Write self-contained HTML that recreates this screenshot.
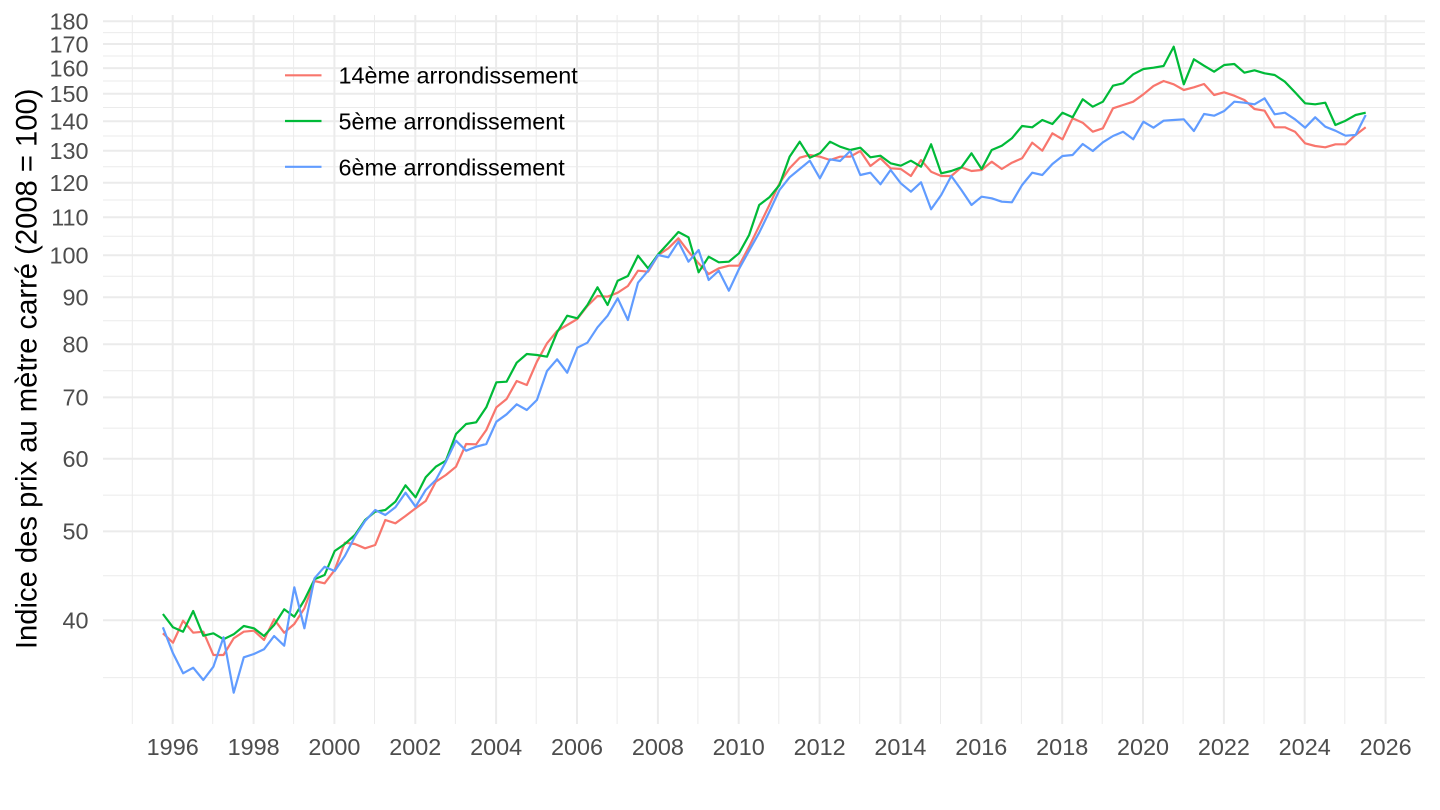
<!DOCTYPE html>
<html>
<head>
<meta charset="utf-8">
<style>
  html, body { margin: 0; padding: 0; background: #ffffff; }
  svg { display: block; }
  text { font-family: "Liberation Sans", Arial, sans-serif; }
</style>
</head>
<body>
<svg width="1440" height="810" viewBox="0 0 1440 810" xmlns="http://www.w3.org/2000/svg">
  <rect x="0" y="0" width="1440" height="810" fill="#ffffff"/>
  <!-- minor horizontal gridlines -->
  <g stroke="#EBEBEB" stroke-width="1" fill="none">
    <line x1="103" x2="1425" y1="677.6" y2="677.6"/>
    <line x1="103" x2="1425" y1="575.8" y2="575.8"/>
    <line x1="103" x2="1425" y1="495.1" y2="495.1"/>
    <line x1="103" x2="1425" y1="428.1" y2="428.1"/>
    <line x1="103" x2="1425" y1="370.8" y2="370.8"/>
    <line x1="103" x2="1425" y1="320.7" y2="320.7"/>
    <line x1="103" x2="1425" y1="276.3" y2="276.3"/>
    <line x1="103" x2="1425" y1="236.3" y2="236.3"/>
    <line x1="103" x2="1425" y1="200.0" y2="200.0"/>
    <line x1="103" x2="1425" y1="166.7" y2="166.7"/>
    <line x1="103" x2="1425" y1="136.0" y2="136.0"/>
    <line x1="103" x2="1425" y1="107.5" y2="107.5"/>
    <line x1="103" x2="1425" y1="81.0" y2="81.0"/>
    <line x1="103" x2="1425" y1="56.0" y2="56.0"/>
    <line x1="103" x2="1425" y1="32.6" y2="32.6"/>
  </g>
  <!-- minor vertical gridlines (odd years) -->
  <g stroke="#EBEBEB" stroke-width="1" fill="none">
    <line y1="15" y2="724" x1="132.3" x2="132.3"/>
    <line y1="15" y2="724" x1="212.7" x2="212.7"/>
    <line y1="15" y2="724" x1="293.6" x2="293.6"/>
    <line y1="15" y2="724" x1="374.5" x2="374.5"/>
    <line y1="15" y2="724" x1="455.4" x2="455.4"/>
    <line y1="15" y2="724" x1="536.2" x2="536.2"/>
    <line y1="15" y2="724" x1="617.1" x2="617.1"/>
    <line y1="15" y2="724" x1="697.9" x2="697.9"/>
    <line y1="15" y2="724" x1="778.8" x2="778.8"/>
    <line y1="15" y2="724" x1="859.7" x2="859.7"/>
    <line y1="15" y2="724" x1="940.5" x2="940.5"/>
    <line y1="15" y2="724" x1="1021.4" x2="1021.4"/>
    <line y1="15" y2="724" x1="1102.2" x2="1102.2"/>
    <line y1="15" y2="724" x1="1183.1" x2="1183.1"/>
    <line y1="15" y2="724" x1="1264.0" x2="1264.0"/>
    <line y1="15" y2="724" x1="1344.8" x2="1344.8"/>
  </g>
  <!-- major horizontal gridlines -->
  <g stroke="#EBEBEB" stroke-width="2" fill="none">
    <line x1="103" x2="1425" y1="620.3" y2="620.3"/>
    <line x1="103" x2="1425" y1="531.4" y2="531.4"/>
    <line x1="103" x2="1425" y1="458.8" y2="458.8"/>
    <line x1="103" x2="1425" y1="397.4" y2="397.4"/>
    <line x1="103" x2="1425" y1="344.2" y2="344.2"/>
    <line x1="103" x2="1425" y1="297.3" y2="297.3"/>
    <line x1="103" x2="1425" y1="255.3" y2="255.3"/>
    <line x1="103" x2="1425" y1="217.3" y2="217.3"/>
    <line x1="103" x2="1425" y1="182.7" y2="182.7"/>
    <line x1="103" x2="1425" y1="150.8" y2="150.8"/>
    <line x1="103" x2="1425" y1="121.3" y2="121.3"/>
    <line x1="103" x2="1425" y1="93.8" y2="93.8"/>
    <line x1="103" x2="1425" y1="68.1" y2="68.1"/>
    <line x1="103" x2="1425" y1="44.0" y2="44.0"/>
    <line x1="103" x2="1425" y1="21.2" y2="21.2"/>
  </g>
  <!-- major vertical gridlines (even years) -->
  <g stroke="#EBEBEB" stroke-width="2" fill="none">
    <line y1="15" y2="724" x1="172.7" x2="172.7"/>
    <line y1="15" y2="724" x1="253.6" x2="253.6"/>
    <line y1="15" y2="724" x1="334.4" x2="334.4"/>
    <line y1="15" y2="724" x1="415.3" x2="415.3"/>
    <line y1="15" y2="724" x1="496.1" x2="496.1"/>
    <line y1="15" y2="724" x1="577.0" x2="577.0"/>
    <line y1="15" y2="724" x1="657.9" x2="657.9"/>
    <line y1="15" y2="724" x1="738.7" x2="738.7"/>
    <line y1="15" y2="724" x1="819.6" x2="819.6"/>
    <line y1="15" y2="724" x1="900.4" x2="900.4"/>
    <line y1="15" y2="724" x1="981.3" x2="981.3"/>
    <line y1="15" y2="724" x1="1062.2" x2="1062.2"/>
    <line y1="15" y2="724" x1="1143.0" x2="1143.0"/>
    <line y1="15" y2="724" x1="1223.9" x2="1223.9"/>
    <line y1="15" y2="724" x1="1304.7" x2="1304.7"/>
    <line y1="15" y2="724" x1="1385.6" x2="1385.6"/>
  </g>

  <!-- series -->
  <g fill="none" stroke-width="2.2" stroke-linejoin="round" stroke-linecap="butt">
    <polyline stroke="#F8766D" points="162.9,633.3 173.0,642.7 183.1,620.7 193.2,632.7 203.3,631.7 213.4,655 223.5,655 233.7,638.3 243.8,631.7 253.9,630.7 264.0,640 274.1,619.3 284.2,632.7 294.3,624 304.4,608.3 314.5,581 324.6,583.3 334.7,570 344.8,542.7 354.9,544 365.1,548.3 375.2,545 385.3,520 395.4,523.3 405.5,516 415.6,508.3 425.7,501 435.8,481.7 445.9,475 456.0,466.7 466.1,444 476.2,444.3 486.3,430 496.4,407.3 506.6,399 516.7,381 526.8,385 536.9,361.7 547.0,343.3 557.1,331 567.2,325 577.3,319 587.4,306 597.5,296 607.6,296.7 617.7,292.7 627.9,286 638.0,270.7 648.1,271.7 658.2,255 668.3,248.3 678.4,238.3 688.5,251.7 698.6,263.3 708.7,274 718.8,268.3 728.9,265.7 739.0,265.7 749.1,246.7 759.2,226 769.4,205 779.5,183.3 789.6,168.3 799.7,157.7 809.8,155 819.9,156.7 830.0,160 840.1,156.7 850.2,156.7 860.3,151 870.4,166 880.5,158.3 890.6,168.3 900.8,169 910.9,176 921.0,160 931.1,171.7 941.2,176 951.3,176 961.4,167.3 971.5,171 981.6,170 991.7,161.7 1001.8,169 1011.9,162.7 1022.1,158.3 1032.2,142.7 1042.3,150.7 1052.4,133.3 1062.5,139.3 1072.6,118.3 1082.7,122.7 1092.8,131.7 1102.9,128.3 1113.0,108.3 1123.1,105 1133.2,101.7 1143.4,94.3 1153.5,86 1163.6,81 1173.7,84.3 1183.8,90 1193.9,87.3 1204.0,84 1214.1,95 1224.2,92.3 1234.3,95.7 1244.4,100 1254.5,109 1264.6,110.7 1274.7,127.3 1284.9,127.3 1295.0,131.7 1305.1,143.3 1315.2,146 1325.3,147.3 1335.4,144.3 1345.5,144.3 1355.6,135 1365.7,127.3"/>
    <polyline stroke="#00BA38" points="162.9,614 173.0,627.3 183.1,631.7 193.2,611 203.3,635.7 213.4,633.3 223.5,639.3 233.7,634.3 243.8,626 253.9,628.3 264.0,636 274.1,625 284.2,609.3 294.3,616.7 304.4,600 314.5,579.3 324.6,575 334.7,551 344.8,544 354.9,535 365.1,520 375.2,511.7 385.3,510 395.4,501.7 405.5,485.3 415.6,497.3 425.7,477.3 435.8,466.7 445.9,460.7 456.0,434 466.1,424 476.2,422.3 486.3,407.3 496.4,382.3 506.6,381.7 516.7,362.7 526.8,354 536.9,355 547.0,356.7 557.1,332.3 567.2,315.7 577.3,318.3 587.4,305 597.5,287.3 607.6,305 617.7,280.7 627.9,276 638.0,255.7 648.1,268.3 658.2,254.3 668.3,243.3 678.4,232 688.5,237.3 698.6,272.3 708.7,256.7 718.8,262.3 728.9,261.7 739.0,253.3 749.1,235 759.2,205 769.4,197.3 779.5,185 789.6,156.7 799.7,141.7 809.8,157.7 819.9,153.3 830.0,141.7 840.1,146.7 850.2,150 860.3,147.7 870.4,157.3 880.5,155.7 890.6,163.3 900.8,165.7 910.9,160.7 921.0,166.7 931.1,144.3 941.2,173.3 951.3,171 961.4,167.3 971.5,153.3 981.6,169 991.7,150 1001.8,145.7 1011.9,138.3 1022.1,126 1032.2,127.3 1042.3,120 1052.4,124 1062.5,112.7 1072.6,117.3 1082.7,99.3 1092.8,106.7 1102.9,101.7 1113.0,85.7 1123.1,83.3 1133.2,74.3 1143.4,69 1153.5,67.7 1163.6,66 1173.7,46.7 1183.8,84.3 1193.9,59.3 1204.0,65.7 1214.1,71.7 1224.2,65 1234.3,64 1244.4,72.7 1254.5,70.3 1264.6,73.3 1274.7,75 1284.9,81.7 1295.0,92.3 1305.1,103.3 1315.2,104.3 1325.3,102.7 1335.4,125 1345.5,120.7 1355.6,115 1365.7,112.7"/>
    <polyline stroke="#619CFF" points="162.9,627.3 173.0,653.3 183.1,673.3 193.2,667.7 203.3,680 213.4,666.7 223.5,637.3 233.7,692.7 243.8,657.3 253.9,654 264.0,649.3 274.1,636 284.2,645.7 294.3,587.3 304.4,628.3 314.5,578.3 324.6,566.7 334.7,571 344.8,556 354.9,536.7 365.1,521 375.2,510 385.3,515 395.4,507.3 405.5,492.7 415.6,506.7 425.7,490 435.8,480 445.9,461.7 456.0,440.7 466.1,450.7 476.2,446.7 486.3,444 496.4,421.7 506.6,414.3 516.7,404.3 526.8,410 536.9,400 547.0,371 557.1,359.3 567.2,372.7 577.3,347.7 587.4,342.7 597.5,327.3 607.6,315.7 617.7,298.3 627.9,320 638.0,282.7 648.1,270.7 658.2,255 668.3,257.3 678.4,241.7 688.5,261.7 698.6,250 708.7,280 718.8,270.7 728.9,290.7 739.0,269 749.1,250.7 759.2,232.7 769.4,211.7 779.5,190 789.6,177.3 799.7,169 809.8,160.7 819.9,178.3 830.0,159.3 840.1,161 850.2,151 860.3,175 870.4,172.7 880.5,184.3 890.6,170 900.8,183.3 910.9,191.7 921.0,182.3 931.1,209.3 941.2,195 951.3,176 961.4,190 971.5,205 981.6,196.7 991.7,198.3 1001.8,201.7 1011.9,202.3 1022.1,185 1032.2,172.7 1042.3,175 1052.4,164 1062.5,156 1072.6,155 1082.7,144 1092.8,151 1102.9,142.3 1113.0,136 1123.1,131.7 1133.2,139.3 1143.4,121.7 1153.5,127.7 1163.6,120.7 1173.7,120 1183.8,119.3 1193.9,131 1204.0,114 1214.1,115.7 1224.2,111 1234.3,101.7 1244.4,102.7 1254.5,104.3 1264.6,98.3 1274.7,114.3 1284.9,112.7 1295.0,119.3 1305.1,127.7 1315.2,117.3 1325.3,126.7 1335.4,130.7 1345.5,135.7 1355.6,135 1365.7,115"/>
  </g>

  <!-- legend -->
  <g stroke-width="2.2">
    <line x1="285" x2="321.5" y1="75.3" y2="75.3" stroke="#F8766D"/>
    <line x1="285" x2="321.5" y1="121" y2="121" stroke="#00BA38"/>
    <line x1="285" x2="321.5" y1="166.8" y2="166.8" stroke="#619CFF"/>
  </g>
  <g font-size="23.4" fill="#000000">
    <text x="338.5" y="83.7">14ème arrondissement</text>
    <text x="338.5" y="129.5">5ème arrondissement</text>
    <text x="338.5" y="175.3">6ème arrondissement</text>
  </g>

  <!-- y tick labels -->
  <g font-size="23.4" fill="#4D4D4D" text-anchor="end">
    <text x="88.5" y="628.6">40</text>
    <text x="88.5" y="539.7">50</text>
    <text x="88.5" y="467.1">60</text>
    <text x="88.5" y="405.7">70</text>
    <text x="88.5" y="352.5">80</text>
    <text x="88.5" y="305.6">90</text>
    <text x="88.5" y="263.6">100</text>
    <text x="88.5" y="225.6">110</text>
    <text x="88.5" y="191.0">120</text>
    <text x="88.5" y="159.1">130</text>
    <text x="88.5" y="129.6">140</text>
    <text x="88.5" y="102.1">150</text>
    <text x="88.5" y="76.4">160</text>
    <text x="88.5" y="52.3">170</text>
    <text x="88.5" y="29.5">180</text>
  </g>

  <!-- x tick labels -->
  <g font-size="23.4" fill="#4D4D4D" text-anchor="middle">
    <text x="172.7" y="755">1996</text>
    <text x="253.6" y="755">1998</text>
    <text x="334.4" y="755">2000</text>
    <text x="415.3" y="755">2002</text>
    <text x="496.1" y="755">2004</text>
    <text x="577.0" y="755">2006</text>
    <text x="657.9" y="755">2008</text>
    <text x="738.7" y="755">2010</text>
    <text x="819.6" y="755">2012</text>
    <text x="900.4" y="755">2014</text>
    <text x="981.3" y="755">2016</text>
    <text x="1062.2" y="755">2018</text>
    <text x="1143.0" y="755">2020</text>
    <text x="1223.9" y="755">2022</text>
    <text x="1304.7" y="755">2024</text>
    <text x="1385.6" y="755">2026</text>
  </g>

  <!-- y axis title -->
  <text transform="translate(36.5,368.8) rotate(-90)" text-anchor="middle" font-size="29.2" fill="#000000">Indice des prix au mètre carré (2008 = 100)</text>
</svg>
</body>
</html>
